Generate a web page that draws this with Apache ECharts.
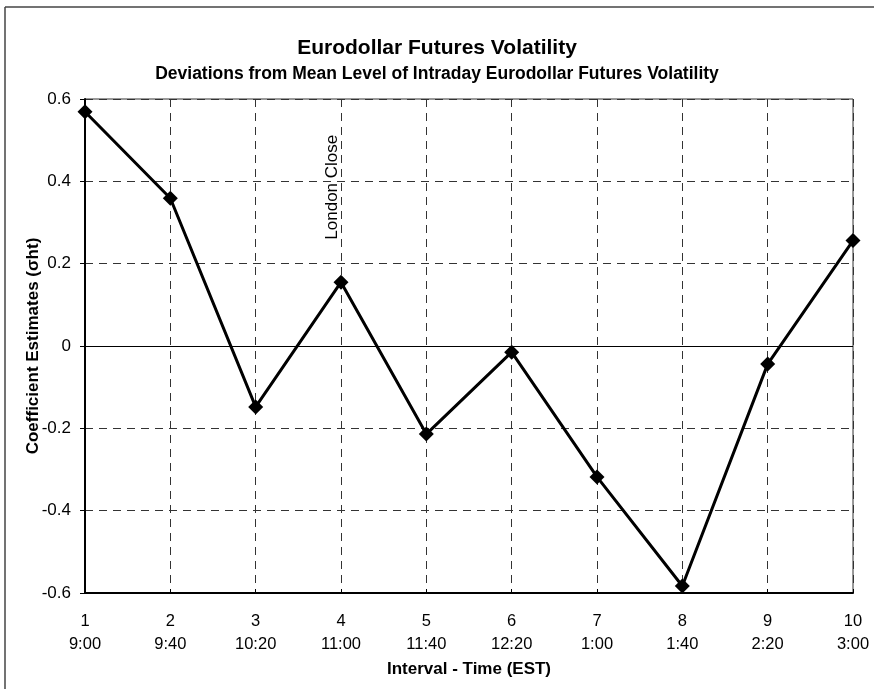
<!DOCTYPE html>
<html>
<head>
<meta charset="utf-8">
<script src="https://cdn.jsdelivr.net/npm/echarts@6/dist/echarts.min.js"></script>
<style>
  html, body { margin: 0; padding: 0; background: #fff; }
  #chart { width: 874px; height: 689px; }
</style>
</head>
<body>
<div id="chart"></div>
<script>
const intervals = ['1', '2', '3', '4', '5', '6', '7', '8', '9', '10'];
const times = ['9:00', '9:40', '10:20', '11:00', '11:40', '12:20', '1:00', '1:40', '2:20', '3:00'];
const coefficients = [0.569, 0.359, -0.148, 0.155, -0.214, -0.015, -0.318, -0.583, -0.044, 0.256];
const yTicks = [-0.6, -0.4, -0.2, 0, 0.2, 0.4, 0.6];
const annotationIndex = 3;
const annotationText = 'London Close';

const FONT = '"Liberation Sans", Arial, sans-serif';
const chart = echarts.init(document.getElementById('chart'));

const seriesData = coefficients.map((v, i) => {
  if (i === annotationIndex) {
    return {
      value: v,
      label: {
        show: true,
        formatter: annotationText,
        position: 'top',
        distance: 35,
        rotate: 90,
        align: 'left',
        verticalAlign: 'bottom',
        color: '#000',
        fontFamily: FONT,
        fontSize: 17
      }
    };
  }
  return v;
});

chart.setOption({
  animation: false,
  backgroundColor: '#fff',
  title: [
    {
      text: 'Eurodollar Futures Volatility',
      left: 'center',
      top: 33,
      textStyle: { fontFamily: FONT, fontSize: 21, fontWeight: 'bold', color: '#000' }
    },
    {
      text: 'Deviations from Mean Level of Intraday Eurodollar Futures Volatility',
      left: 'center',
      top: 60,
      textStyle: { fontFamily: FONT, fontSize: 17.5, fontWeight: 'bold', color: '#000' }
    }
  ],
  grid: { left: 85, right: 21, top: 99, bottom: 96, show: true, borderColor: '#333', borderWidth: 1 },
  xAxis: {
    type: 'category',
    data: intervals,
    boundaryGap: false,
    name: 'Interval - Time (EST)',
    nameLocation: 'middle',
    nameGap: 66,
    nameTextStyle: { fontFamily: FONT, fontSize: 17, fontWeight: 'bold', color: '#000' },
    axisLine: { onZero: false, lineStyle: { color: '#000', width: 2 } },
    axisTick: { show: true, inside: true, length: 4, lineStyle: { color: '#000' } },
    axisLabel: {
      margin: 17,
      fontFamily: FONT,
      fontSize: 16.5,
      color: '#000',
      lineHeight: 23,
      formatter: (val, idx) => intervals[idx] + '\n' + times[idx]
    },
    splitLine: { show: true, lineStyle: { color: '#333', type: [8, 6], width: 1 } }
  },
  yAxis: {
    type: 'value',
    min: yTicks[0],
    max: yTicks[yTicks.length - 1],
    interval: 0.2,
    name: 'Coefficient Estimates (\u03c3ht)',
    nameLocation: 'middle',
    nameGap: 43,
    nameMoveOverlap: false,
    nameTextStyle: { fontFamily: FONT, fontSize: 17, fontWeight: 'bold', color: '#000' },
    axisLine: { show: true, lineStyle: { color: '#000', width: 2 } },
    axisTick: { show: true, length: 5, lineStyle: { color: '#000' } },
    axisLabel: {
      margin: 14,
      fontFamily: FONT,
      fontSize: 17,
      color: '#000',
      formatter: v => {
        const r = Math.round(v * 10) / 10;
        return r === 0 ? '0' : String(r);
      }
    },
    splitLine: { show: true, lineStyle: { color: '#333', type: [8, 6], width: 1 } }
  },
  series: [
    {
      type: 'line',
      data: seriesData,
      symbol: 'diamond',
      symbolSize: 15,
      lineStyle: { color: '#000', width: 3 },
      itemStyle: { color: '#000' },
      z: 5,
      markLine: {
        silent: true,
        symbol: 'none',
        label: { show: false },
        lineStyle: { color: '#000', type: 'solid', width: 1 },
        data: [{ yAxis: 0 }]
      }
    }
  ],
  graphic: [
    { type: 'line', shape: { x1: 5, y1: 7, x2: 5, y2: 689 }, style: { stroke: '#444', lineWidth: 1.5 } },
    { type: 'line', shape: { x1: 5, y1: 7, x2: 874, y2: 7 }, style: { stroke: '#444', lineWidth: 1.5 } }
  ]
});
</script>
</body>
</html>
